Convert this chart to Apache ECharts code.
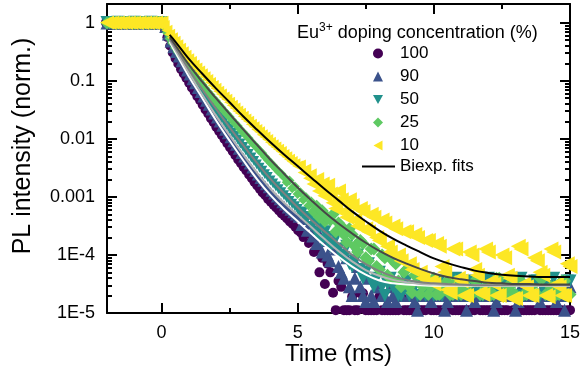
<!DOCTYPE html>
<html>
<head>
<meta charset="utf-8">
<script src="https://cdn.jsdelivr.net/npm/echarts/dist/echarts.min.js"></script>
<style>
html,body{margin:0;padding:0;background:#fff;}
#chart{width:581px;height:373px;}
</style>
</head>
<body>
<div id="chart"></div>
<script>
// ---------- data ----------
const time = [
  -2.0,-1.9,-1.8,-1.7,-1.6,-1.5,-1.4,-1.3,-1.2,-1.1,
  -1.0,-0.9,-0.8,-0.7,-0.6,-0.5,-0.4,-0.3,-0.2,-0.1,0.0,
  0.1,0.2,0.3,0.4,0.5,0.6,0.7,0.8,0.9,1.0,
  1.1,1.2,1.3,1.4,1.5,1.6,1.7,1.8,1.9,2.0,
  2.1,2.2,2.3,2.4,2.5,2.6,2.7,2.8,2.9,3.0,
  3.1,3.2,3.3,3.4,3.5,3.6,3.7,3.8,3.9,4.0,
  4.1,4.2,4.3,4.4,4.5,4.6,4.7,4.8,4.9,5.0,
  5.1,5.2,5.3,5.4,5.5,5.6,5.7,5.8,5.9,6.0,
  6.1,6.2,6.3,6.4,6.5,6.6,6.7,6.8,6.9,7.0,
  7.1,7.2,7.3,7.4,7.5,7.6,7.7,7.8,7.9,8.0,
  8.1,8.2,8.3,8.4,8.5,8.6,8.7,8.8,8.9,9.0,
  9.1,9.2,9.3,9.4,9.5,9.6,9.7,9.8,9.9,10.0,
  10.1,10.2,10.3,10.4,10.5,10.6,10.7,10.8,10.9,11.0,
  11.1,11.2,11.3,11.4,11.5,11.6,11.7,11.8,11.9,12.0,
  12.1,12.2,12.3,12.4,12.5,12.6,12.7,12.8,12.9,13.0,
  13.1,13.2,13.3,13.4,13.5,13.6,13.7,13.8,13.9,14.0,
  14.1,14.2,14.3,14.4,14.5,14.6,14.7,14.8,14.9,15.0
];
const pl100 = [
  1.01,0.99,1.02,0.99,1.01,0.98,1.01,0.99,1.02,0.99,
  1.01,0.98,1.01,0.99,1.02,0.99,1.01,0.98,1.01,0.99,1.00,
  7.94e-1,5.62e-1,3.98e-1,3.02e-1,2.40e-1,1.95e-1,1.58e-1,1.32e-1,1.10e-1,9.12e-2,
  7.59e-2,6.46e-2,5.37e-2,4.57e-2,3.80e-2,3.16e-2,2.69e-2,2.24e-2,1.91e-2,1.58e-2,
  1.35e-2,1.15e-2,9.77e-3,8.32e-3,7.08e-3,6.03e-3,5.13e-3,4.37e-3,3.80e-3,3.24e-3,
  2.82e-3,2.40e-3,2.09e-3,1.78e-3,1.55e-3,1.35e-3,1.17e-3,1.05e-3,9.12e-4,8.13e-4,
  7.24e-4,6.46e-4,5.75e-4,5.13e-4,4.68e-4,4.17e-4,3.72e-4,3.39e-4,3.02e-4,2.63e-4,
  2.40e-4,2.00e-4,2.29e-4,1.58e-4,1.78e-4,1.12e-4,1.32e-4,5.01e-5,8.91e-5,3.16e-5,
  7.08e-5,5.01e-5,2.24e-5,1.12e-5,3.55e-5,2.82e-5,1.12e-5,1.12e-5,1.12e-5,1.91e-5,
  1.12e-5,1.12e-5,2.19e-5,2.19e-5,1.12e-5,1.12e-5,1.12e-5,1.12e-5,1.12e-5,1.91e-5,
  1.12e-5,1.12e-5,1.12e-5,1.12e-5,1.12e-5,1.12e-5,1.12e-5,1.91e-5,1.12e-5,1.12e-5,
  1.12e-5,1.12e-5,1.12e-5,1.12e-5,1.12e-5,1.12e-5,1.12e-5,1.91e-5,1.12e-5,1.12e-5,
  1.12e-5,1.12e-5,1.12e-5,1.12e-5,1.12e-5,1.91e-5,1.12e-5,1.12e-5,1.12e-5,1.12e-5,
  1.12e-5,1.12e-5,1.12e-5,1.12e-5,1.12e-5,1.91e-5,1.12e-5,1.12e-5,1.12e-5,1.12e-5,
  1.12e-5,1.12e-5,1.12e-5,1.12e-5,1.12e-5,1.12e-5,1.12e-5,1.91e-5,1.12e-5,1.12e-5,
  1.12e-5,1.12e-5,1.12e-5,1.12e-5,1.12e-5,1.12e-5,1.12e-5,1.91e-5,1.12e-5,1.12e-5,
  1.12e-5,1.12e-5,1.12e-5,1.12e-5,1.12e-5,1.12e-5,1.12e-5,1.91e-5,1.12e-5,1.12e-5
];
const pl90 = [
  0.99,1.01,0.99,1.02,0.98,1.01,0.99,1.01,0.99,1.02,
  0.98,1.01,0.99,1.01,0.99,1.02,0.98,1.01,0.99,1.01,1.00,
  8.13e-1,6.03e-1,4.57e-1,3.63e-1,3.02e-1,2.51e-1,2.09e-1,1.74e-1,1.45e-1,1.23e-1,
  1.02e-1,8.71e-2,7.24e-2,6.17e-2,5.13e-2,4.37e-2,3.72e-2,3.09e-2,2.63e-2,2.24e-2,
  1.91e-2,1.62e-2,1.38e-2,1.20e-2,1.02e-2,8.71e-3,7.59e-3,6.46e-3,5.50e-3,4.79e-3,
  4.17e-3,3.63e-3,3.09e-3,2.69e-3,2.34e-3,2.04e-3,1.82e-3,1.58e-3,1.41e-3,1.23e-3,
  1.10e-3,9.77e-4,8.71e-4,7.76e-4,7.08e-4,6.31e-4,5.75e-4,5.25e-4,4.79e-4,4.37e-4,
  3.16e-4,3.98e-4,2.51e-4,3.31e-4,2.00e-4,2.82e-4,1.58e-4,2.24e-4,1.12e-4,1.78e-4,
  1.00e-4,7.94e-5,1.41e-4,1.26e-4,6.31e-5,5.01e-5,3.98e-5,8.91e-5,2.82e-5,2.00e-5,
  3.98e-5,6.31e-5,2.82e-5,2.00e-5,1.58e-5,3.98e-5,2.00e-5,1.58e-5,2.82e-5,2.82e-5,
  2.00e-5,2.00e-5,1.58e-5,2.82e-5,2.00e-5,1.58e-5,2.00e-5,2.00e-5,2.82e-5,2.82e-5,
  2.00e-5,2.00e-5,1.58e-5,1.12e-5,2.00e-5,2.82e-5,2.82e-5,2.00e-5,1.58e-5,2.00e-5,
  2.00e-5,2.82e-5,2.00e-5,1.12e-5,1.58e-5,2.00e-5,2.00e-5,2.82e-5,2.00e-5,2.00e-5,
  2.82e-5,1.12e-5,2.00e-5,2.82e-5,1.58e-5,2.00e-5,2.00e-5,2.00e-5,2.82e-5,2.82e-5,
  2.00e-5,1.12e-5,1.58e-5,2.00e-5,2.00e-5,2.82e-5,2.82e-5,2.00e-5,2.00e-5,1.12e-5,
  1.58e-5,2.82e-5,2.00e-5,2.82e-5,2.82e-5,2.00e-5,2.00e-5,2.00e-5,1.58e-5,2.82e-5,
  2.00e-5,2.00e-5,2.82e-5,2.82e-5,1.58e-5,2.00e-5,2.00e-5,1.12e-5,2.82e-5,2.82e-5
];
const pl50 = [
  1.01,0.99,1.01,0.98,1.02,0.99,1.01,0.99,1.01,0.98,
  1.02,0.99,1.01,0.99,1.01,0.98,1.02,0.99,1.01,0.99,1.00,
  8.32e-1,6.46e-1,5.01e-1,4.07e-1,3.39e-1,2.82e-1,2.40e-1,2.04e-1,1.74e-1,1.48e-1,
  1.26e-1,1.07e-1,9.12e-2,7.76e-2,6.61e-2,5.75e-2,4.90e-2,4.17e-2,3.63e-2,3.09e-2,
  2.69e-2,2.29e-2,2.00e-2,1.70e-2,1.48e-2,1.29e-2,1.12e-2,9.77e-3,8.32e-3,7.24e-3,
  6.31e-3,5.50e-3,4.79e-3,4.17e-3,3.63e-3,3.16e-3,2.82e-3,2.45e-3,2.19e-3,1.91e-3,
  1.70e-3,1.51e-3,1.35e-3,1.20e-3,1.07e-3,9.55e-4,8.51e-4,7.59e-4,6.92e-4,6.17e-4,
  5.01e-4,5.62e-4,3.98e-4,4.68e-4,3.16e-4,3.80e-4,2.40e-4,3.16e-4,1.78e-4,2.51e-4,
  2.00e-4,1.41e-4,1.58e-4,2.00e-4,1.26e-4,1.00e-4,8.91e-5,1.41e-4,7.08e-5,6.31e-5,
  7.94e-5,1.00e-4,5.62e-5,3.98e-5,5.01e-5,7.08e-5,3.55e-5,2.82e-5,3.98e-5,5.01e-5,
  2.82e-5,2.00e-5,3.16e-5,3.98e-5,2.82e-5,2.82e-5,2.00e-5,2.00e-5,2.82e-5,3.55e-5,
  2.00e-5,2.82e-5,2.82e-5,2.00e-5,3.55e-5,3.98e-5,2.00e-5,2.82e-5,2.82e-5,2.00e-5,
  2.82e-5,3.55e-5,2.00e-5,2.82e-5,2.82e-5,2.00e-5,3.55e-5,3.98e-5,2.00e-5,2.82e-5,
  2.82e-5,2.00e-5,2.00e-5,3.55e-5,2.82e-5,2.82e-5,2.00e-5,2.00e-5,3.55e-5,3.98e-5,
  2.00e-5,2.82e-5,2.82e-5,2.00e-5,3.55e-5,3.55e-5,2.82e-5,2.82e-5,2.00e-5,2.00e-5,
  3.55e-5,3.98e-5,2.00e-5,2.82e-5,2.82e-5,2.00e-5,3.55e-5,3.55e-5,2.00e-5,2.82e-5,
  2.82e-5,2.00e-5,2.82e-5,3.98e-5,2.00e-5,2.82e-5,2.82e-5,2.00e-5,3.55e-5,3.55e-5
];
const pl25 = [
  0.99,1.01,0.99,1.01,0.98,1.02,0.99,1.01,0.99,1.01,
  0.98,1.02,0.99,1.01,0.99,1.01,0.98,1.02,0.99,1.01,1.00,
  8.51e-1,6.76e-1,5.37e-1,4.47e-1,3.72e-1,3.16e-1,2.69e-1,2.29e-1,1.95e-1,1.70e-1,
  1.48e-1,1.29e-1,1.12e-1,9.77e-2,8.51e-2,7.41e-2,6.46e-2,5.75e-2,5.01e-2,4.47e-2,
  3.89e-2,3.47e-2,3.02e-2,2.69e-2,2.40e-2,2.09e-2,1.86e-2,1.66e-2,1.45e-2,1.29e-2,
  1.15e-2,1.02e-2,8.91e-3,7.94e-3,7.08e-3,6.31e-3,5.62e-3,4.90e-3,4.37e-3,3.89e-3,
  3.47e-3,3.09e-3,2.75e-3,2.51e-3,2.19e-3,1.78e-3,1.91e-3,1.41e-3,1.51e-3,1.12e-3,
  1.20e-3,8.91e-4,1.00e-3,7.08e-4,8.32e-4,5.62e-4,6.92e-4,4.47e-4,5.75e-4,3.80e-4,
  4.47e-4,3.98e-4,5.01e-4,2.51e-4,3.55e-4,3.16e-4,2.24e-4,1.66e-4,2.82e-4,2.24e-4,
  1.41e-4,1.12e-4,1.78e-4,1.58e-4,8.91e-5,7.94e-5,1.26e-4,1.26e-4,6.31e-5,5.62e-5,
  1.00e-4,8.91e-5,4.47e-5,3.98e-5,7.94e-5,7.08e-5,3.55e-5,2.82e-5,5.01e-5,5.62e-5,
  2.82e-5,2.24e-5,4.47e-5,4.47e-5,2.09e-5,2.82e-5,3.55e-5,2.09e-5,2.82e-5,3.98e-5,
  2.09e-5,2.09e-5,2.82e-5,2.82e-5,3.55e-5,2.09e-5,2.09e-5,3.55e-5,2.82e-5,2.09e-5,
  2.82e-5,2.82e-5,2.09e-5,2.09e-5,3.55e-5,3.55e-5,2.09e-5,2.09e-5,2.82e-5,2.82e-5,
  2.09e-5,2.09e-5,3.98e-5,3.98e-5,2.09e-5,2.09e-5,2.82e-5,2.82e-5,2.09e-5,2.09e-5,
  3.55e-5,3.55e-5,2.09e-5,2.09e-5,2.82e-5,2.82e-5,2.09e-5,2.09e-5,3.98e-5,3.98e-5,
  2.09e-5,2.09e-5,2.82e-5,2.82e-5,2.09e-5,2.09e-5,3.55e-5,3.55e-5,2.09e-5,2.09e-5
];
const pl10 = [
  1.01,0.99,1.01,0.99,1.01,0.99,1.01,0.99,1.01,0.99,
  1.01,0.99,1.01,0.99,1.01,0.99,1.01,0.99,1.01,0.99,1.00,
  8.91e-1,7.41e-1,6.31e-1,5.50e-1,4.79e-1,4.17e-1,3.63e-1,3.16e-1,2.75e-1,2.40e-1,
  2.14e-1,1.86e-1,1.66e-1,1.48e-1,1.32e-1,1.17e-1,1.05e-1,9.33e-2,8.32e-2,7.41e-2,
  6.61e-2,5.89e-2,5.25e-2,4.79e-2,4.27e-2,3.80e-2,3.39e-2,3.02e-2,2.75e-2,2.45e-2,
  2.19e-2,2.00e-2,1.78e-2,1.62e-2,1.45e-2,1.32e-2,1.17e-2,1.07e-2,9.77e-3,8.71e-3,
  7.94e-3,7.24e-3,6.61e-3,6.03e-3,5.37e-3,4.90e-3,4.47e-3,4.07e-3,3.72e-3,3.39e-3,
  3.55e-3,2.63e-3,3.02e-3,2.09e-3,2.51e-3,1.66e-3,2.00e-3,1.26e-3,1.66e-3,1.05e-3,
  1.58e-3,1.12e-3,7.94e-4,6.31e-4,1.26e-3,8.91e-4,5.62e-4,4.47e-4,8.91e-4,7.08e-4,
  3.98e-4,3.16e-4,6.31e-4,5.62e-4,2.82e-4,2.51e-4,5.01e-4,4.47e-4,2.00e-4,1.78e-4,
  3.98e-4,3.55e-4,1.41e-4,1.12e-4,3.16e-4,2.82e-4,1.00e-4,7.94e-5,2.51e-4,2.51e-4,
  7.08e-5,5.62e-5,2.24e-4,2.00e-4,5.01e-5,3.98e-5,1.78e-4,1.78e-4,3.55e-5,3.16e-5,
  1.58e-4,1.41e-4,6.31e-5,5.01e-5,2.51e-5,2.24e-5,1.26e-4,1.26e-4,3.98e-5,3.55e-5,
  2.00e-5,2.00e-5,1.12e-4,1.00e-4,5.62e-5,4.47e-5,2.24e-5,2.09e-5,1.26e-4,1.12e-4,
  3.55e-5,3.16e-5,2.00e-5,2.00e-5,1.00e-4,8.91e-5,4.47e-5,3.98e-5,1.78e-5,1.78e-5,
  1.41e-4,1.26e-4,3.16e-5,2.82e-5,2.00e-5,2.00e-5,8.91e-5,7.94e-5,5.01e-5,4.47e-5,
  2.00e-5,1.91e-5,1.26e-4,1.12e-4,3.16e-5,2.82e-5,2.00e-5,2.00e-5,7.08e-5,6.31e-5
];
// biexponential fit curves
const fitTime = [0.3,0.5,1,1.5,2,2.5,3,3.5,4,4.5,5,5.5,6,6.5,7,7.5,8,8.5,9,9.5,10,10.5,11,11.5,12,12.5,13,13.5,14,14.5,15];
const fit10 = [6.17e-1,4.79e-1,2.40e-1,1.32e-1,7.41e-2,4.27e-2,2.45e-2,1.45e-2,8.71e-3,5.37e-3,3.39e-3,2.14e-3,1.35e-3,8.71e-4,5.62e-4,3.80e-4,2.63e-4,1.91e-4,1.45e-4,1.12e-4,8.71e-5,7.24e-5,6.17e-5,5.37e-5,4.90e-5,4.57e-5,4.37e-5,4.27e-5,4.17e-5,4.17e-5,4.17e-5];
const fit25 = [5.62e-1,4.17e-1,1.91e-1,9.55e-2,5.01e-2,2.69e-2,1.45e-2,7.94e-3,4.37e-3,2.51e-3,1.45e-3,8.71e-4,5.37e-4,3.47e-4,2.34e-4,1.62e-4,1.17e-4,8.91e-5,7.08e-5,5.75e-5,4.79e-5,4.17e-5,3.80e-5,3.55e-5,3.31e-5,3.24e-5,3.16e-5,3.16e-5,3.09e-5,3.09e-5,3.09e-5];
const fit50 = [5.25e-1,3.80e-1,1.58e-1,7.08e-2,3.31e-2,1.58e-2,7.76e-3,3.89e-3,2.04e-3,1.15e-3,6.61e-4,3.98e-4,2.51e-4,1.58e-4,1.00e-4,6.92e-5,5.25e-5,4.27e-5,3.72e-5,3.39e-5,3.24e-5,3.16e-5,3.09e-5,3.02e-5,3.02e-5,3.02e-5,3.02e-5,3.02e-5,3.02e-5,3.02e-5,3.02e-5];
const fit90 = [5.01e-1,3.47e-1,1.38e-1,5.75e-2,2.51e-2,1.15e-2,5.37e-3,2.63e-3,1.38e-3,7.94e-4,4.90e-4,3.02e-4,1.86e-4,1.17e-4,7.76e-5,5.50e-5,4.37e-5,3.72e-5,3.39e-5,3.16e-5,3.09e-5,3.02e-5,3.02e-5,3.02e-5,3.02e-5,3.02e-5,3.02e-5,3.02e-5,3.02e-5,3.02e-5,3.02e-5];
const fit100 = [4.68e-1,3.16e-1,1.20e-1,5.01e-2,2.09e-2,9.33e-3,4.27e-3,2.04e-3,1.07e-3,6.17e-4,3.80e-4,2.34e-4,1.45e-4,9.33e-5,6.31e-5,4.57e-5,3.63e-5,3.24e-5,3.09e-5,3.02e-5,2.95e-5,2.95e-5,2.95e-5,2.95e-5,2.95e-5,2.95e-5,2.95e-5,2.95e-5,2.95e-5,2.95e-5,2.95e-5];

// axis ticks / labels
const xMajor = [0, 5, 10, 15];
const xMinor = [2.5, 7.5, 12.5];
const xLabels = ['0', '5', '10', '15'];
const yMajor = [1e-5, 1e-4, 1e-3, 1e-2, 1e-1, 1];
const yLabels = ['1E-5', '1E-4', '0.001', '0.01', '0.1', '1'];
const yMinor = [
  2e-5,3e-5,4e-5,5e-5,6e-5,7e-5,8e-5,9e-5,
  2e-4,3e-4,4e-4,5e-4,6e-4,7e-4,8e-4,9e-4,
  2e-3,3e-3,4e-3,5e-3,6e-3,7e-3,8e-3,9e-3,
  2e-2,3e-2,4e-2,5e-2,6e-2,7e-2,8e-2,9e-2,
  0.2,0.3,0.4,0.5,0.6,0.7,0.8,0.9
];
const seriesNames = ['100', '90', '50', '25', '10'];
const fitLegendName = 'Biexp. fits';

// ---------- chart ----------
const FONT = "'Liberation Sans', Arial, sans-serif";
const pairs = (xs, ys) => xs.map((x, i) => [x, ys[i]]);
const gridBox = { left: 107, right: 11, top: 4, bottom: 60, outerBoundsMode: 'none' };

function xAx(gridIndex, pos, ticks, len, showLine, showLabel) {
  return {
    type: 'value', gridIndex, position: pos, min: -2, max: 15,
    axisLine: { show: showLine, onZero: false, lineStyle: { color: '#000', width: 2 } },
    axisTick: { show: true, inside: true, length: len, customValues: ticks, lineStyle: { color: '#000', width: 2 } },
    axisLabel: { show: showLabel, customValues: ticks, margin: 11, color: '#000', fontSize: 18, fontFamily: FONT,
      formatter: v => xLabels[xMajor.indexOf(v)] },
    splitLine: { show: false }
  };
}
function yAx(gridIndex, pos, ticks, len, showLine, showLabel) {
  return {
    type: 'log', gridIndex, position: pos, min: 1e-5, max: 2.1, logBase: 10,
    axisLine: { show: showLine, onZero: false, lineStyle: { color: '#000', width: 2 } },
    axisTick: { show: true, inside: true, length: len, customValues: ticks, lineStyle: { color: '#000', width: 2 } },
    axisLabel: { show: showLabel, customValues: ticks, margin: 12, color: '#000', fontSize: 18, fontFamily: FONT,
      formatter: v => {
        let best = 0, bd = Infinity;
        yMajor.forEach((m, i) => { const d = Math.abs(Math.log10(v) - Math.log10(m)); if (d < bd) { bd = d; best = i; } });
        return yLabels[best];
      } },
    splitLine: { show: false }
  };
}

const xAxes = [
  Object.assign(xAx(0, 'bottom', xMajor, 10, true, true), {
    name: 'Time (ms)', nameLocation: 'middle', nameGap: 29, nameMoveOverlap: false,
    nameTextStyle: { fontSize: 24, color: '#000', fontFamily: FONT }
  }),
  xAx(0, 'top', xMajor, 10, true, false),
  xAx(1, 'bottom', xMinor, 5, false, false),
  xAx(1, 'top', xMinor, 5, false, false)
];
const yAxes = [
  yAx(0, 'left', yMajor, 10, true, true),
  yAx(0, 'right', yMajor, 10, true, false),
  yAx(1, 'left', yMinor, 5, false, false),
  yAx(1, 'right', yMinor, 5, false, false)
];

const dataSets = [pl100, pl90, pl50, pl25, pl10];
const colors = ['#440154', '#3b528b', '#21918c', '#5ec962', '#fde725'];
const symbols = ['circle', 'triangle', 'triangle', 'diamond', 'triangle'];
const rotations = [0, 0, 180, 0, 90];
const sizeFlat = [12, 13, 13, 13, 14];
const sizeSteep = [9, 10, 10, 10, 11];
const sizeTail = [10, 13, 13, 13, 15];
const legendIcons = ['circle', 'triangle', 'path://M0,0L10,0L5,9Z', 'diamond', 'path://M9,0L9,10L0,5Z'];

const scatterSeries = dataSets.map((d, i) => ({
  type: 'scatter', name: seriesNames[i], xAxisIndex: 0, yAxisIndex: 0,
  data: pairs(time, d), symbol: symbols[i], symbolRotate: rotations[i],
  symbolSize: v => (v[0] > 5.5 ? sizeTail[i] : (v[0] <= 0 ? sizeFlat[i] : sizeSteep[i])),
  itemStyle: { color: colors[i], opacity: 1 }, clip: true, z: 2, silent: true, animation: false
}));

const fits = [fit100, fit90, fit50, fit25, fit10];
const fitColors = ['#ffffff', '#b4b4b4', '#808080', '#474747', '#000000'];
const fitNames = ['fit100', 'fit90', 'fit50', 'fit25', fitLegendName];
const fitSeries = fits.map((d, i) => ({
  type: 'line', name: fitNames[i], xAxisIndex: 0, yAxisIndex: 0,
  data: pairs(fitTime, d), smooth: 0.4, showSymbol: false, symbol: 'none',
  lineStyle: { color: fitColors[i], width: 2 }, itemStyle: { color: fitColors[i] },
  z: 5, silent: true, animation: false
}));

const legendText = { fontSize: 17, lineHeight: 17, color: '#000', fontFamily: FONT, padding: [0, 0, 0, 12] };
const chart = echarts.init(document.getElementById('chart'), null, { renderer: 'canvas' });
chart.setOption({
  animation: false,
  backgroundColor: '#fff',
  textStyle: { fontFamily: FONT },
  grid: [Object.assign({}, gridBox), Object.assign({}, gridBox)],
  xAxis: xAxes,
  yAxis: yAxes,
  legend: [
    {
      data: seriesNames.map((n, i) => ({ name: n, icon: legendIcons[i] })),
      orient: 'vertical', left: 373, top: 45, padding: 0,
      itemWidth: 10, itemHeight: 10, itemGap: 6, selectedMode: false,
      textStyle: legendText
    },
    {
      data: [{ name: fitLegendName, icon: 'rect' }], orient: 'vertical', left: 362, top: 158, padding: 0,
      itemWidth: 33, itemHeight: 2, selectedMode: false,
      textStyle: { fontSize: 17, lineHeight: 17, color: '#000', fontFamily: FONT }
    }
  ],
  graphic: [
    {
      type: 'text', x: 23, y: 146, rotation: Math.PI / 2,
      style: { text: 'PL intensity (norm.)', fontSize: 25, fontFamily: FONT, fill: '#000', align: 'center', verticalAlign: 'middle' }
    },
    {
      type: 'text', x: 297, y: 32,
      style: {
        text: '{a|Eu}{s|3+}{a| doping concentration (%)}', verticalAlign: 'middle', fill: '#000',
        rich: {
          a: { fontSize: 18, fontFamily: FONT, lineHeight: 20, fill: '#000', verticalAlign: 'bottom' },
          s: { fontSize: 12, fontFamily: FONT, lineHeight: 12, fill: '#000', verticalAlign: 'top' }
        }
      }
    }
  ],
  series: scatterSeries.concat(fitSeries)
});
</script>
</body>
</html>
